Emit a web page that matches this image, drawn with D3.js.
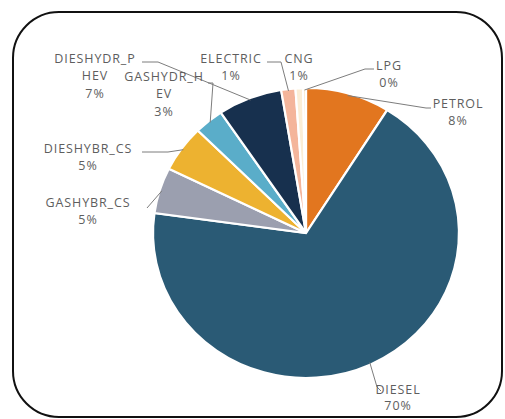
<!DOCTYPE html>
<html>
<head>
<meta charset="utf-8">
<script src="https://cdn.jsdelivr.net/npm/d3@7"></script>
<style>
  body { margin: 0; background: #fff; }
  svg text { font-family: "Open Sans", sans-serif; font-size: 12.5px; fill: #5e5e5e; letter-spacing: 0.9px; }
</style>
</head>
<body>
<script>
// categories in clockwise order, starting at 12 o'clock
var categories = ['PETROL', 'DIESEL', 'GASHYBR_CS', 'DIESHYBR_CS', 'GASHYDR_HEV', 'DIESHYDR_PHEV', 'ELECTRIC', 'CNG', 'LPG'];
// shares (%)
var shares = [8.9, 68.3, 5.1, 5.2, 3.1, 6.8, 1.5, 0.8, 0.3];
// percent labels as printed on the chart
var pctLabels = ['8%', '70%', '5%', '5%', '3%', '7%', '1%', '1%', '0%'];
// category names as they are wrapped on the chart
var nameLines = [['PETROL'], ['DIESEL'], ['GASHYBR_CS'], ['DIESHYBR_CS'], ['GASHYDR_H', 'EV'], ['DIESHYDR_P', 'HEV'], ['ELECTRIC'], ['CNG'], ['LPG']];

var colors = ['#e2761f', '#2a5a75', '#9b9faf', '#edb230', '#5aadc9', '#17304e', '#f4b59b', '#fbeed6', '#f6dfb8'];

var width = 505, height = 419;
var cx = 306, cy = 233, radius = 145, sx = 1.055;

// label placement: text centre (first line), line gap, leader points from label towards slice
var layout = {
    PETROL:        { x: 458, y: 103, gap: 17.5, lead: [[431, 108], [426, 108]] },
    DIESEL:        { x: 398, y: 389, gap: 16,   lead: [[381, 391], [377, 387]] },
    GASHYBR_CS:    { x: 88,  y: 202, gap: 17.5, lead: [[147, 208]] },
    DIESHYBR_CS:   { x: 88,  y: 148, gap: 17.5, lead: [[142, 152], [168, 152]] },
    GASHYDR_HEV:   { x: 164, y: 76,  gap: 17.5, lead: [[208, 83], [213, 83]] },
    DIESHYDR_PHEV: { x: 95,  y: 58,  gap: 17.5, lead: [[142, 62], [158, 62]] },
    ELECTRIC:      { x: 231, y: 58,  gap: 17.5, lead: [[267, 62], [281, 62]] },
    CNG:           { x: 299, y: 58,  gap: 17.5, lead: null },
    LPG:           { x: 389, y: 65,  gap: 17.5, lead: [[374, 69], [365, 69]] }
};

var svg = d3.select('body').append('svg')
    .attr('width', width)
    .attr('height', height);

svg.append('rect').attr('width', width).attr('height', height).attr('fill', '#fff');

// rounded frame
svg.append('rect')
    .attr('x', 13).attr('y', 12)
    .attr('width', 489).attr('height', 405)
    .attr('rx', 46).attr('ry', 46)
    .attr('fill', 'none')
    .attr('stroke', '#111')
    .attr('stroke-width', 2);

var pie = d3.pie().sort(null).value(function (d) { return d; });
var arcs = pie(shares);

var arc = d3.arc().innerRadius(0).outerRadius(radius);

var g = svg.append('g')
    .attr('transform', 'translate(' + cx + ',' + cy + ') scale(' + sx + ',1)');

g.selectAll('path.slice')
    .data(arcs)
    .enter().append('path')
    .attr('class', 'slice')
    .attr('d', arc)
    .attr('fill', function (d, i) { return colors[i]; })
    .attr('stroke', '#fff')
    .attr('stroke-width', 2.2)
    .attr('vector-effect', 'non-scaling-stroke');

function edgePoint(d, r) {
    var a = (d.startAngle + d.endAngle) / 2;
    return [cx + Math.sin(a) * r * sx, cy - Math.cos(a) * r];
}

// leader lines
arcs.forEach(function (d, i) {
    var L = layout[categories[i]];
    if (!L.lead) return;
    var pts = L.lead.concat([edgePoint(d, radius - 2)]);
    svg.append('path')
        .attr('d', d3.line()(pts))
        .attr('fill', 'none')
        .attr('stroke', '#7d7d7d')
        .attr('stroke-width', 1);
});

// labels
arcs.forEach(function (d, i) {
    var L = layout[categories[i]];
    var lines = nameLines[i].concat([pctLabels[i]]);
    var t = svg.append('text')
        .attr('text-anchor', 'middle');
    lines.forEach(function (s, k) {
        t.append('tspan')
            .attr('x', L.x)
            .attr('y', L.y + 4.5 + k * L.gap)
            .text(s);
    });
});
</script>
</body>
</html>
